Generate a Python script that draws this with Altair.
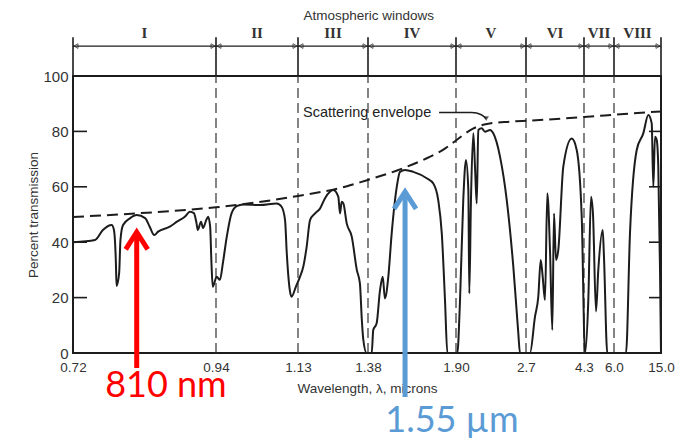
import altair as alt
import pandas as pd

# ---------------- data ----------------
tick_wl = [0.72, 0.94, 1.13, 1.38, 1.90, 2.7, 4.3, 6.0, 15.0]
# piecewise axis: pixel offset of each tick inside the plot (scale range)
tick_px = [0, 143, 225, 295, 383, 453, 511, 541, 588]

curve_wl = [0.720, 0.754, 0.766, 0.7795, 0.783, 0.786, 0.787, 0.791, 0.793, 0.797,
            0.808, 0.818, 0.831, 0.838, 0.845, 0.851, 0.869, 0.880, 0.892, 0.900,
            0.906, 0.910, 0.912, 0.917, 0.920, 0.925, 0.928, 0.931, 0.933, 0.935,
            0.9416, 0.949, 0.956, 0.965, 0.976, 0.988, 1.003, 1.042, 1.081, 1.092,
            1.100, 1.104, 1.111, 1.115, 1.125, 1.137, 1.149, 1.161, 1.173, 1.191,
            1.209, 1.226, 1.244, 1.256, 1.274, 1.280, 1.286, 1.292, 1.304, 1.322,
            1.340, 1.351, 1.358, 1.363, 1.375, 1.402, 1.411, 1.431, 1.451, 1.467,
            1.480, 1.500, 1.520, 1.550, 1.569, 1.599, 1.648, 1.727, 1.766, 1.795,
            1.816, 1.835, 1.849, 1.915, 1.946, 1.983, 2.014, 2.041, 2.052, 2.071,
            2.098, 2.117, 2.137, 2.155, 2.194, 2.231, 2.289, 2.326, 2.403, 2.480,
            2.555, 2.612, 2.631, 2.810, 2.948, 3.039, 3.106, 3.161, 3.224, 3.288,
            3.362, 3.426, 3.472, 3.528, 3.591, 3.729, 3.961, 4.099, 4.237, 4.357,
            4.544, 4.697, 4.81, 4.98, 5.11, 5.36, 5.43, 5.62, 8.30, 9.06,
            10.35, 11.61, 12.57, 13.22, 13.53, 13.85, 14.18, 14.48, 14.81, 15.0]
curve_pct = [40.0, 40.8, 44.4, 46.2, 44.4, 32.5, 24.2, 28.9, 40.8, 46.2,
             48.7, 49.8, 48.7, 45.6, 42.6, 43.8, 45.6, 47.4, 49.2, 51.0,
             50.5, 46.9, 44.4, 47.4, 45.1, 48.0, 49.2, 45.6, 32.5, 23.9,
             27.5, 26.4, 32.5, 42.0, 50.4, 53.0, 53.6, 53.4, 54.0, 52.8,
             48.0, 36.0, 22.7, 20.3, 23.9, 27.5, 31.2, 38.4, 48.0, 50.4,
             52.2, 55.8, 58.2, 58.8, 56.4, 50.4, 54.6, 54.0, 46.8, 42.0,
             30.0, 25.2, 11.9, 5.0, 0.0, 0.0, 8.3, 10.7, 22.7, 27.5,
             19.7, 27.5, 43.2, 60.0, 65.4, 66.1, 65.4, 63.1, 61.2, 55.2,
             43.2, 19.1, 0.0, 0.0, 19.1, 55.2, 69.7, 58.8, 21.5, 55.2,
             79.3, 67.3, 54.0, 80.5, 81.1, 79.9, 80.5, 79.3, 70.9, 55.2,
             31.2, 7.2, 0.0, 0.0, 13.1, 20.3, 33.6, 27.5, 19.1, 57.7,
             37.2, 8.3, 50.4, 33.6, 37.2, 67.3, 77.4, 73.3, 49.2, 0.0,
             19.1, 56.4, 50.0, 15.0, 30.0, 44.4, 35.0, 0.0, 0.0, 43.2,
             73.3, 79.3, 85.9, 82.9, 60.0, 78.1, 76.9, 67.3, 30.0, 0.0]

env_wl = [0.72, 0.818, 0.94, 1.13, 1.305, 1.351, 1.587, 1.727, 1.823, 1.911,
          2.094, 2.254, 2.517, 2.81, 4.3, 6.0, 12.5, 15.0]
env_pct = [49.1, 50.4, 52.6, 56.7, 60.2, 61.6, 66.7, 70.3, 73.3, 77.0,
           81.0, 82.7, 83.5, 83.9, 85.2, 86.0, 86.9, 87.2]

win_names = ["I", "II", "III", "IV", "V", "VI", "VII", "VIII"]
win_start = tick_wl[:-1]
win_end = tick_wl[1:]
win_label_wl = [0.83, 1.035, 1.255, 1.64, 2.30, 3.50, 5.15, 10.5]

y_ticks = [0, 20, 40, 60, 80, 100]
inner_ticks = [20, 40, 60, 80]

# annotation values
arrow_row = 110.8      # level of the window arrows
bound_top = 114.0      # top of the boundary lines
label_row = 115.6      # roman numerals
title_row = 121.8      # "Atmospheric windows"
title_wl = 1.385

red_wl, red_tip, red_base = 0.818, 43.6, -5.4
blue_wl, blue_tip, blue_base = 1.599, 58.2, -15.9
red_text_wl, red_text_y = 0.863, -15.9
blue_text_wl, blue_text_y = 1.876, -28.5

scat_text_wl, scat_text_y = 1.148, 86.6
scat_arrow_wl = [1.80, 2.08, 2.19, 2.245]
scat_arrow_pct = [86.8, 86.8, 86.0, 84.6]

# ---------------- helpers ----------------
FONT = "Liberation Sans"
INK = "#1c1c1c"

xscale = alt.Scale(domain=tick_wl, range=tick_px, nice=False, zero=False)
yscale = alt.Scale(domain=[0, 100], nice=False, zero=False)

xaxis = alt.Axis(values=tick_wl,
                 labelExpr="datum.value < 2 ? format(datum.value, '.2f') : format(datum.value, '.1f')",
                 title="Wavelength, λ, microns", ticks=False, domain=False, grid=False,
                 labelFlush=False, labelOverlap=False, labelPadding=7,
                 labelFont=FONT, labelFontSize=13.5, labelColor="#333",
                 titleFont=FONT, titleFontSize=13.5, titleFontWeight="normal",
                 titleColor="#333", titlePadding=8)
yaxis = alt.Axis(values=y_ticks, title="Percent transmission", ticks=False,
                 domain=False, grid=False, labelPadding=5,
                 labelFont=FONT, labelFontSize=15, labelColor="#333",
                 titleFont=FONT, titleFontSize=13.5, titleFontWeight="normal",
                 titleColor="#333", titlePadding=2)


def X(f):
    return alt.X(f, type="quantitative", scale=xscale, axis=xaxis)


def Y(f):
    return alt.Y(f, type="quantitative", scale=yscale, axis=yaxis)


curve_df = pd.DataFrame({"wl": curve_wl, "pct": curve_pct})
env_df = pd.DataFrame({"wl": env_wl, "pct": env_pct})
bounds_df = pd.DataFrame({"wl": tick_wl, "lo": [0] * len(tick_wl),
                          "hi": [100] * len(tick_wl), "top": [bound_top] * len(tick_wl)})
inner_bounds_df = bounds_df.iloc[1:-1]
win_df = pd.DataFrame({"name": win_names, "wl": win_start, "wl2": win_end,
                       "lab": win_label_wl, "y": [arrow_row] * 8, "ly": [label_row] * 8})
lt_df = pd.DataFrame({"wl": [tick_wl[0]] * 4, "pct": inner_ticks})
rt_df = pd.DataFrame({"wl": [tick_wl[-1]] * 4, "pct": inner_ticks})

# dashed interior boundaries
grid = alt.Chart(inner_bounds_df).mark_rule(color="#333", strokeWidth=1.2, strokeDash=[10, 5]).encode(
    x=X("wl"), y=Y("lo"), y2="hi")
# solid boundaries above the frame
bound_up = alt.Chart(bounds_df).mark_rule(color=INK, strokeWidth=1.6).encode(
    x=X("wl"), y=Y("hi"), y2="top")
# window arrows
win_rule = alt.Chart(win_df).mark_rule(color=INK, strokeWidth=1.2).encode(
    x=X("wl"), x2="wl2", y=Y("y"))
win_left = alt.Chart(win_df).mark_point(shape="triangle-left", size=22, filled=False,
                                        color=INK, strokeWidth=1, xOffset=3).encode(
    x=X("wl"), y=Y("y"))
win_right = alt.Chart(win_df).mark_point(shape="triangle-right", size=22, filled=False,
                                         color=INK, strokeWidth=1, xOffset=-3).encode(
    x=X("wl2"), y=Y("y"))
win_text = alt.Chart(win_df).mark_text(font="Liberation Serif", fontSize=15, fontWeight="bold",
                                       color="#333", baseline="middle").encode(
    x=X("lab"), y=Y("ly"), text="name:N")
title_txt = alt.Chart(pd.DataFrame({"wl": [title_wl], "pct": [title_row],
                                    "t": ["Atmospheric windows"]})).mark_text(
    font=FONT, fontSize=13.5, color="#333", baseline="middle").encode(
    x=X("wl"), y=Y("pct"), text="t:N")

# inward ticks
lt = alt.Chart(lt_df).mark_rule(color=INK, strokeWidth=1.6).encode(
    x=X("wl"), x2=alt.value(14), y=Y("pct"))
rt = alt.Chart(rt_df).mark_rule(color=INK, strokeWidth=1.6).encode(
    x=X("wl"), x2=alt.value(576), y=Y("pct"))

envelope = alt.Chart(env_df).mark_line(color=INK, strokeWidth=2, strokeDash=[11, 6],
                                       interpolate="monotone").encode(x=X("wl"), y=Y("pct"))
curve = alt.Chart(curve_df).mark_line(color=INK, strokeWidth=2,
                                      interpolate="monotone").encode(x=X("wl"), y=Y("pct"))

scat_txt = alt.Chart(pd.DataFrame({"wl": [scat_text_wl], "pct": [scat_text_y],
                                   "t": ["Scattering envelope"]})).mark_text(
    font=FONT, fontSize=14.5, color="#222", align="left", baseline="middle").encode(
    x=X("wl"), y=Y("pct"), text="t:N")
scat_line = alt.Chart(pd.DataFrame({"wl": scat_arrow_wl, "pct": scat_arrow_pct})).mark_line(
    color=INK, strokeWidth=1.5, interpolate="monotone").encode(x=X("wl"), y=Y("pct"))
scat_head = alt.Chart(pd.DataFrame({"wl": [scat_arrow_wl[-1]], "pct": [scat_arrow_pct[-1]]})).mark_point(
    shape="triangle-down", size=30, filled=True, color=INK).encode(x=X("wl"), y=Y("pct"))

HEAD = "M -1 1.55 L 0 0 L 1 1.55"
ann = pd.DataFrame({"wl": [red_wl, blue_wl], "tip": [red_tip, blue_tip],
                    "base": [red_base, blue_base]})
RED, BLUE = "#ff0000", "#5b9bd5"
red_shaft = alt.Chart(ann.iloc[[0]]).mark_rule(color=RED, strokeWidth=5).encode(
    x=X("wl"), y=Y("tip"), y2="base")
blue_shaft = alt.Chart(ann.iloc[[1]]).mark_rule(color=BLUE, strokeWidth=5).encode(
    x=X("wl"), y=Y("tip"), y2="base")
red_head = alt.Chart(ann.iloc[[0]]).mark_point(shape=HEAD, size=484, filled=False, color=RED,
                                               strokeWidth=5, opacity=1).encode(x=X("wl"), y=Y("tip"))
blue_head = alt.Chart(ann.iloc[[1]]).mark_point(shape=HEAD, size=484, filled=False, color=BLUE,
                                                strokeWidth=5, opacity=1).encode(x=X("wl"), y=Y("tip"))
red_txt = alt.Chart(pd.DataFrame({"wl": [red_text_wl], "pct": [red_text_y], "t": ["810 nm"]})).mark_text(
    font="Lato", fontSize=36, color=RED, baseline="alphabetic").encode(x=X("wl"), y=Y("pct"), text="t:N")
blue_txt = alt.Chart(pd.DataFrame({"wl": [blue_text_wl], "pct": [blue_text_y], "t": ["1.55 µm"]})).mark_text(
    font="Lato", fontSize=36, color=BLUE, baseline="alphabetic").encode(x=X("wl"), y=Y("pct"), text="t:N")

chart = alt.layer(
    grid, bound_up, win_rule, win_left, win_right, win_text, title_txt, lt, rt,
    envelope, curve, scat_line, scat_head, scat_txt,
    red_shaft, blue_shaft, red_head, blue_head, red_txt, blue_txt
).properties(
    width=588, height=277,
    padding={"left": 65, "top": 68, "right": 18, "bottom": 88},
    autosize=alt.AutoSizeParams(type="none"),
    background="white",
).configure_view(stroke=INK, strokeWidth=2)

chart.save("out.html", embed_options={"renderer": "svg", "actions": False})
